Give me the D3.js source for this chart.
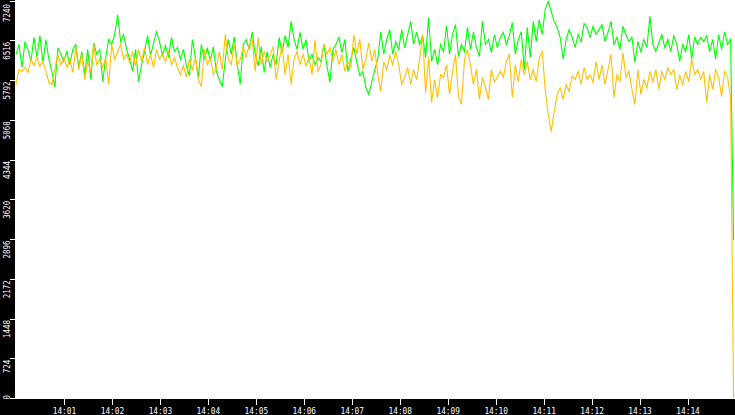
<!DOCTYPE html>
<html>
<head>
<meta charset="utf-8">
<script src="https://cdn.jsdelivr.net/npm/d3@7"></script>
<style>
  html, body { margin: 0; padding: 0; background: #fff; }
  svg { display: block; }
</style>
</head>
<body>
<svg id="chart" width="735" height="415"></svg>
<script>
// ---- data ----
const startTime = "14:00:00";
const sampleStepSeconds = 3.74;

const greenValues = [
  6260,6440,6020,6490,6350,6130,6570,6200,6600,6110,6530,6170,5950,5660,6380,6260,6130,6310,6070,6350,6440,6020,6310,5890,6350,5800,6470,6260,6350,5760,6200,6530,
  6440,6620,6980,6490,6620,6350,6170,5950,6350,5760,6070,6310,6600,6240,6460,6670,6490,6240,6420,6200,6570,6310,6380,6170,6350,6050,5870,6530,6200,5840,
  6440,6170,6380,6130,6400,5950,5800,5670,6170,6530,6260,6580,6070,5710,6440,6530,6350,6670,6260,6050,6400,5930,6310,6020,6260,6070,6570,6290,6600,6380,6860,6530,6350,6660,
  6350,6530,6130,6260,6070,6200,6130,6440,6050,5750,6350,6440,6570,6290,6530,5950,6170,6380,6110,5870,5950,5660,5530,5760,5980,6170,6670,6260,6530,6710,6260,6490,6350,
  6710,6380,6620,6860,6440,6670,6440,6600,6200,6930,6130,6350,6070,6440,6310,6780,6260,6620,6800,6220,6440,6310,6750,6350,6670,6380,6220,6860,6440,6530,6290,6620,6380,
  6570,6660,6440,6600,6840,6260,6530,6670,5980,6750,6200,6860,6490,6890,6620,7080,7220,7040,6860,6750,6570,6170,6530,6710,6570,6380,6620,6490,6820,6750,6570,6770,6620,6710,
  6800,6490,6660,6860,6440,6570,6350,6770,6620,6490,6570,6110,6490,6310,6530,6380,6950,6440,6310,6470,6620,6380,6530,6310,6600,6440,6130,6440,6310,6620,6170,6580,6440,6570,6490,6600,6310,6530,6170,6620,6350,6670,6440,6530,
  2880
];

const orangeValues = [
  5710,5980,5950,6020,5930,6170,6050,6200,6040,6130,5950,5750,5710,5980,6260,6070,6200,6020,6170,5930,6380,5980,6260,5800,6130,5930,6440,6070,6170,6020,6200,5710,
  6440,6170,6310,6440,6170,6260,6110,6310,6050,6350,6130,6380,6070,6260,6020,6350,6170,6260,6130,6310,6070,6200,6020,5890,6050,5840,6170,5980,6200,5800,
  5670,6350,6070,6200,5890,6020,6310,5980,6620,6170,6070,6440,6050,6170,6400,6200,6440,6530,5950,6570,6070,6310,6130,6240,6400,5800,6130,6440,5890,6260,5710,6170,6310,6070,
  6260,6050,6200,5890,6530,5950,6070,6440,6260,6380,6130,6350,6070,6260,5950,6130,6020,6620,6260,6530,5980,6170,6470,6130,6350,5890,5580,6130,5980,6240,6070,6310,6070,
  5710,5840,6020,5710,5980,5800,6170,6620,5560,6200,5380,5800,5470,5890,5840,6070,5530,5950,6260,5490,5350,6170,6350,6070,5710,5980,5440,5840,5660,5440,5980,5760,5840,
  5950,5840,6130,6260,5470,6070,5760,6170,5890,6130,5800,5980,5760,6200,6310,5620,5160,4850,5220,5530,5650,5440,5710,5580,5870,5800,5950,5710,6020,5800,5890,5750,6130,5800,
  6070,5710,5980,6260,5470,5890,5760,6290,5840,5950,5620,5350,5980,5530,5800,5650,5950,5760,5980,5620,5950,5800,6020,5890,5980,5620,5870,5710,5950,5760,6170,5890,5980,5800,5950,5380,5890,5620,5980,5840,5490,5950,5840,5470,
  0
];

const yTickValues = [0, 724, 1448, 2172, 2896, 3620, 4344, 5068, 5792, 6516, 7240];
const xTickLabels = ["14:01","14:02","14:03","14:04","14:05","14:06","14:07",
                     "14:08","14:09","14:10","14:11","14:12","14:13","14:14"];
const xDomainLabels = ["14:00", "14:15"];

// ---- chart ----
const W = 735, H = 415;
const left = 15, plotBottom = 399;

const parseHM = d3.timeParse("%H:%M");
const parseHMS = d3.timeParse("%H:%M:%S");
const t0 = parseHMS(startTime);

const svg = d3.select("#chart");

const x = d3.scaleTime()
  .domain(xDomainLabels.map(parseHM))
  .range([16, 735.5]);

const y = d3.scaleLinear()
  .domain([0, 7240])
  .range([398, 0.5]);

function toSeries(vals) {
  return vals.map((v, i) => ({ t: new Date(t0.getTime() + i * sampleStepSeconds * 1000), v }));
}

svg.append("rect").attr("x", 0).attr("y", 0).attr("width", W).attr("height", H).attr("fill", "#fff");

const line = d3.line().x(d => x(d.t)).y(d => y(d.v));

svg.append("path")
  .datum(toSeries(greenValues))
  .attr("d", line)
  .attr("fill", "none")
  .attr("stroke", "#00ff00")
  .attr("stroke-width", 1.1)
  .attr("stroke-linejoin", "miter");

svg.append("path")
  .datum(toSeries(orangeValues))
  .attr("d", line)
  .attr("fill", "none")
  .attr("stroke", "#ffc000")
  .attr("stroke-width", 1.1)
  .attr("stroke-linejoin", "miter");

// black axis strips
svg.append("rect").attr("x", 0).attr("y", 0).attr("width", left).attr("height", H).attr("fill", "#000");
svg.append("rect").attr("x", 0).attr("y", plotBottom).attr("width", W).attr("height", H - plotBottom).attr("fill", "#000");

const fontFam = "'DejaVu Sans Mono', 'Liberation Mono', monospace";

// left axis
const gy = svg.append("g")
  .attr("transform", `translate(${left},0)`)
  .call(d3.axisLeft(y).tickValues(yTickValues).tickSize(5).tickSizeOuter(0).tickFormat(d3.format("d")));
gy.select(".domain").remove();
gy.selectAll(".tick line").attr("stroke", "#fff").attr("shape-rendering", "crispEdges");
gy.selectAll(".tick text")
  .attr("x", null).attr("dy", null)
  .attr("fill", "#fff")
  .attr("font-family", fontFam)
  .attr("font-size", 9.5)
  .attr("text-anchor", d => d === 0 ? "start" : "end")
  .attr("transform", d => d === 7240 ? "translate(-5.5,3) rotate(-90)" : "translate(-5.5,1) rotate(-90)")
  .attr("textLength", function() { return this.textContent.length * 4.5; })
  .attr("lengthAdjust", "spacingAndGlyphs");

// bottom axis
const gx = svg.append("g")
  .attr("transform", `translate(0,${plotBottom})`)
  .call(d3.axisBottom(x).tickValues(xTickLabels.map(parseHM)).tickSize(6).tickSizeOuter(0).tickFormat(d3.timeFormat("%H:%M")));
gx.select(".domain").remove();
gx.selectAll(".tick line").attr("stroke", "#fff").attr("shape-rendering", "crispEdges");
gx.selectAll(".tick text")
  .attr("y", 15).attr("dy", null)
  .attr("fill", "#fff")
  .attr("font-family", fontFam)
  .attr("font-size", 9.5)
  .attr("textLength", function() { return this.textContent.length * 4.7; })
  .attr("lengthAdjust", "spacingAndGlyphs");
</script>
</body>
</html>
